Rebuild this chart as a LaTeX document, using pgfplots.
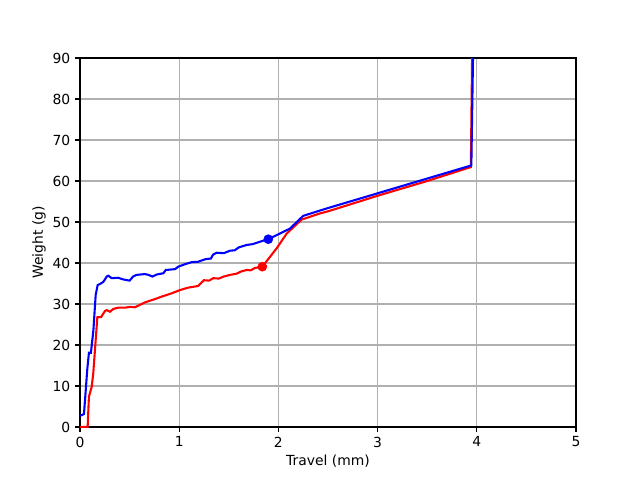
\documentclass[border=0pt]{standalone}
\usepackage{fontspec}
\setmainfont{DejaVu Sans}
\usepackage{pgfplots}
\pgfplotsset{compat=1.18}

\begin{document}
\begin{tikzpicture}
\begin{axis}[
  scale only axis,
  width=357.12pt, height=265.68pt,
  xmin=0, xmax=5, ymin=0, ymax=90,
  xtick={0,1,2,3,4,5}, ytick={0,10,...,90},
  grid=major,
  grid style={color=black!31, line width=0.8pt},
  axis line style={line width=0.8pt},
  tick align=outside, tick pos=left,
  major tick length=3.5pt,
  tick style={line width=0.8pt, black},
  every tick label/.append style={font=\fontsize{10}{12}\selectfont},
  /pgf/number format/assume math mode=true,
  xlabel={Travel (mm)}, ylabel={Weight (g)},
  label style={font=\fontsize{10}{12}\selectfont},
  xlabel style={yshift=1pt},
  ylabel style={yshift=-2pt},
]
% red series
\addplot[red, line width=1.5pt] coordinates {
  (0,0) (0.077,0) (0.09,7.4) (0.118,9.8) (0.134,13.2) (0.158,21.2)
  (0.175,26.8) (0.212,26.8) (0.252,28.3) (0.27,28.5) (0.302,28.1)
  (0.336,28.8) (0.386,29.1) (0.454,29.1) (0.504,29.3) (0.554,29.2)
  (0.605,29.8) (0.655,30.4) (0.756,31.2) (0.823,31.8) (0.924,32.6)
  (1.008,33.4) (1.092,34.0) (1.192,34.4) (1.25,35.8) (1.30,35.7)
  (1.344,36.3) (1.40,36.2) (1.45,36.7) (1.512,37.1) (1.58,37.4)
  (1.62,37.9) (1.68,38.3) (1.72,38.2) (1.764,38.8) (1.838,39.1)
  (1.983,43.6) (2.084,47.2) (2.235,50.6) (2.42,52.1) (2.5,52.6)
  (3.0,56.4) (3.5,60.0) (3.94,63.4) (3.955,95)
};
% blue series
\addplot[blue, line width=1.5pt] coordinates {
  (0,2.8) (0.02,2.9) (0.04,3.2) (0.055,8) (0.073,14) (0.09,18.1)
  (0.11,18.1) (0.135,23.6) (0.158,32.2) (0.178,34.6) (0.21,35)
  (0.235,35.4) (0.27,36.7) (0.285,36.9) (0.32,36.3) (0.385,36.4)
  (0.435,36) (0.50,35.7) (0.535,36.7) (0.57,37.1) (0.655,37.3)
  (0.69,37.1) (0.73,36.7) (0.775,37.2) (0.84,37.5) (0.865,38.3)
  (0.958,38.5) (0.99,39.1) (1.058,39.7) (1.125,40.2) (1.19,40.3)
  (1.26,40.9) (1.32,41.1) (1.34,42.0) (1.377,42.5) (1.45,42.4)
  (1.512,43.0) (1.56,43.1) (1.60,43.8) (1.68,44.4) (1.74,44.6)
  (1.815,45.2) (1.898,45.8) (2.016,47.2) (2.117,48.4)
  (2.25,51.5) (2.42,52.8) (2.5,53.4) (3.0,57.0) (3.5,60.6)
  (3.945,63.8) (3.965,95)
};
% markers
\addplot[red, only marks, mark=*, mark size=3.25pt] coordinates {(1.838,39.1)};
\addplot[blue, only marks, mark=*, mark size=3.25pt] coordinates {(1.898,45.8)};
\end{axis}
\pgfresetboundingbox
\path[use as bounding box] ([xshift=-57.6pt,yshift=-38.16pt]current axis.south west)
  rectangle ([xshift=46.08pt,yshift=41.76pt]current axis.north east);
\end{tikzpicture}
\end{document}
